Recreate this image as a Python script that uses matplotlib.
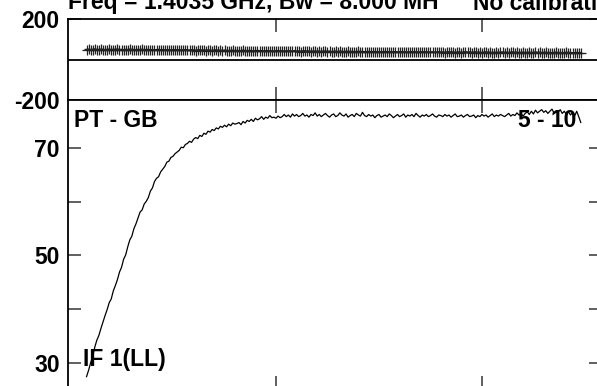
import numpy as np
import matplotlib
matplotlib.use("Agg")
import matplotlib.pyplot as plt

plt.rcParams['font.family'] = ['Liberation Sans', 'DejaVu Sans']
plt.rcParams['font.weight'] = 'bold'

# Spectral channels shown
channels = np.arange(8, 249)

# Amplitude per channel
amplitude = [
    27.4, 28.6, 30.0, 31.2, 32.9, 34.2, 35.1, 36.4, 37.6, 38.8,
    39.9, 41.2, 41.9, 43.4, 44.4, 45.5, 46.9, 47.8, 49.3, 50.1,
    51.6, 52.9, 53.6, 55.0, 55.9, 57.0, 58.1, 58.5, 59.6, 60.1,
    60.8, 62.0, 62.6, 63.8, 64.4, 64.7, 65.6, 66.1, 66.6, 67.4,
    67.6, 68.3, 68.5, 69.0, 69.3, 69.6, 70.2, 70.1, 70.7, 70.9,
    71.3, 71.1, 71.7, 72.0, 71.8, 72.4, 72.2, 72.8, 72.6, 73.2,
    73.0, 73.5, 73.3, 73.8, 73.6, 74.1, 73.9, 74.3, 74.0, 74.5,
    74.2, 74.7, 74.5, 74.6, 74.8, 74.4, 75.0, 74.7, 75.2, 75.0,
    75.4, 75.0, 75.6, 75.3, 75.5, 75.9, 75.4, 75.8, 75.6, 76.1,
    75.7, 75.8, 75.6,
    76.0, 75.7, 75.9, 76.3, 75.9, 76.2, 75.8, 76.4, 76.0, 76.3,
    75.9, 76.1, 76.5, 76.0, 76.2, 75.8, 76.3, 76.1, 76.6, 76.0,
    76.3, 75.9, 76.2, 76.5, 76.1, 75.8, 76.2, 76.4, 75.9, 76.1,
    76.6, 76.2, 76.0, 76.4, 75.8, 76.1, 76.3, 75.9, 76.5, 76.2,
    76.0, 76.7, 76.1, 75.9, 76.3, 76.0, 76.2, 75.7, 76.1, 76.3,
    75.8, 76.0, 76.2, 75.9, 76.4, 76.1, 75.7, 76.0, 76.3, 75.9,
    76.1, 76.4, 75.8, 76.2, 76.0, 76.3, 75.9, 76.5, 76.1, 75.8,
    76.2, 76.0, 76.3, 75.9, 76.1, 76.4, 76.0, 75.8, 76.2, 76.1,
    75.9, 76.3, 76.0, 76.2, 75.8, 76.1, 76.4, 75.9, 76.0, 76.2,
    75.8, 76.1, 76.3, 75.9, 76.0, 76.2, 75.7, 76.1, 75.9, 76.3,
    76.0, 76.2, 75.8, 76.1, 76.4, 75.9, 76.2, 76.0, 76.3, 76.1,
    75.9, 76.2, 76.5, 76.0, 76.3, 76.1, 76.6, 76.2, 76.4, 76.0,
    76.5, 76.8, 76.3, 76.9, 76.4, 77.1, 76.6, 76.9, 77.2, 76.7,
    77.0, 76.5, 76.9, 77.3, 76.6, 77.0, 76.7, 77.2, 76.5, 76.9,
    76.3, 76.8, 76.2, 76.7, 76.0, 76.9, 75.9, 74.8,
]

# Phase per channel (degrees)
phase = [
    50, 51, 49, 50, 52, 50, 49, 51, 50, 48, 50, 51, 49, 50, 50, 52, 49, 50, 48, 50,
    49, 51, 50, 49, 48, 50, 49, 51, 48, 49, 50, 48, 49, 47, 49, 50, 48, 49, 47, 48,
    48, 46, 48, 49, 47, 48, 46, 47, 49, 47, 46, 48, 47, 45, 47, 48, 46, 47, 45, 47,
    46, 44, 46, 47, 45, 46, 44, 46, 45, 43, 45, 46, 44, 45, 43, 44, 46, 44, 43, 45,
    44, 42, 44, 45, 43, 44, 42, 43, 44, 42, 43, 41, 43, 44, 42, 43, 41, 42, 43, 41,
    42, 43, 41, 42, 40, 42, 43, 41, 42, 40, 41, 42, 40, 41, 39, 41, 42, 40, 41, 39,
    40, 41, 39, 41, 40, 38, 40, 41, 39, 40, 38, 39, 41, 39, 40, 38, 39, 40, 38, 39,
    40, 38, 39, 37, 39, 40, 38, 39, 37, 38, 39, 37, 38, 39, 37, 38, 36, 38, 39, 37,
    38, 36, 37, 39, 37, 38, 36, 37, 38, 36, 37, 38, 36, 37, 35, 37, 38, 36, 37, 35,
    36, 37, 35, 36, 38, 36, 37, 35, 36, 37, 35, 36, 34, 36, 37, 35, 36, 34, 35, 36,
    35, 36, 37, 35, 36, 34, 36, 37, 35, 36, 34, 35, 36, 34, 35, 36, 34, 35, 37, 35,
    36, 34, 35, 36, 34, 35, 33, 35, 36, 34, 35, 33, 34, 36, 34, 35, 33, 34, 35, 34,
    34,
]

phase_ticks = [-200, 200]
phase_tick_labels = ['-200', '200']
amp_ticks = [30, 40, 50, 60, 70]
amp_tick_labels = ['30', '', '50', '', '70']
chan_ticks = [100, 200]

title_left = 'Freq = 1.4035 GHz, Bw = 8.000 MH'
title_right = 'No calibration'
baseline_label = 'PT - GB'
time_label = '5 - 10'
if_label = 'IF 1(LL)'

W, H = 597, 386
FS = 16.5


def rect(left, top, right, bottom):
    return [left / W, 1 - bottom / H, (right - left) / W, (bottom - top) / H]


fig = plt.figure(figsize=(W / 100, H / 100), dpi=100)
fig.patch.set_facecolor('white')

ax_ph = fig.add_axes(rect(68, 19.3, 602, 100))
ax_amp = fig.add_axes(rect(68, 100, 602, 389))

for ax in (ax_ph, ax_amp):
    ax.set_xlim(-1, 258.3)
    ax.set_xticks(chan_ticks)
    ax.set_xticklabels([])
    for s in ax.spines.values():
        s.set_linewidth(1.3)
        s.set_color('black')
    ax.tick_params(direction='in', length=9.4, width=1.2, color='#444444',
                   top=True, bottom=True, left=True, right=True,
                   labelsize=FS, pad=6)
    for lab in ax.get_yticklabels():
        lab.set_fontweight('bold')

# Phase panel
ax_ph.set_ylim(-200, 200)
ax_ph.set_yticks(phase_ticks)
ax_ph.set_yticklabels(phase_tick_labels, fontsize=FS, fontweight='bold')
ax_ph.axhline(0, color='black', lw=1.3)
ax_ph.plot(channels, phase, color='black', lw=1.2, marker='+',
           ms=7, mew=0.9, mec='#222222')

# Amplitude panel
ax_amp.set_ylim(25.1, 79.0)
ax_amp.set_yticks(amp_ticks)
ax_amp.set_yticklabels(amp_tick_labels, fontsize=FS, fontweight='bold')
ax_amp.plot(channels, amplitude, color='black', lw=0.9)


def ftext(x, y, s, **kw):
    fig.text(x / W, 1 - y / H, s, fontsize=FS, fontweight='bold',
             va='baseline', zorder=10, **kw)


ftext(68, 9.5, title_left, ha='left')
ftext(473, 9.5, title_right, ha='left')
ftext(74, 126.7, baseline_label, ha='left')
ftext(576, 126.7, time_label, ha='right')
ftext(83, 366, if_label, ha='left')

fig.savefig('out.png', dpi=100)
